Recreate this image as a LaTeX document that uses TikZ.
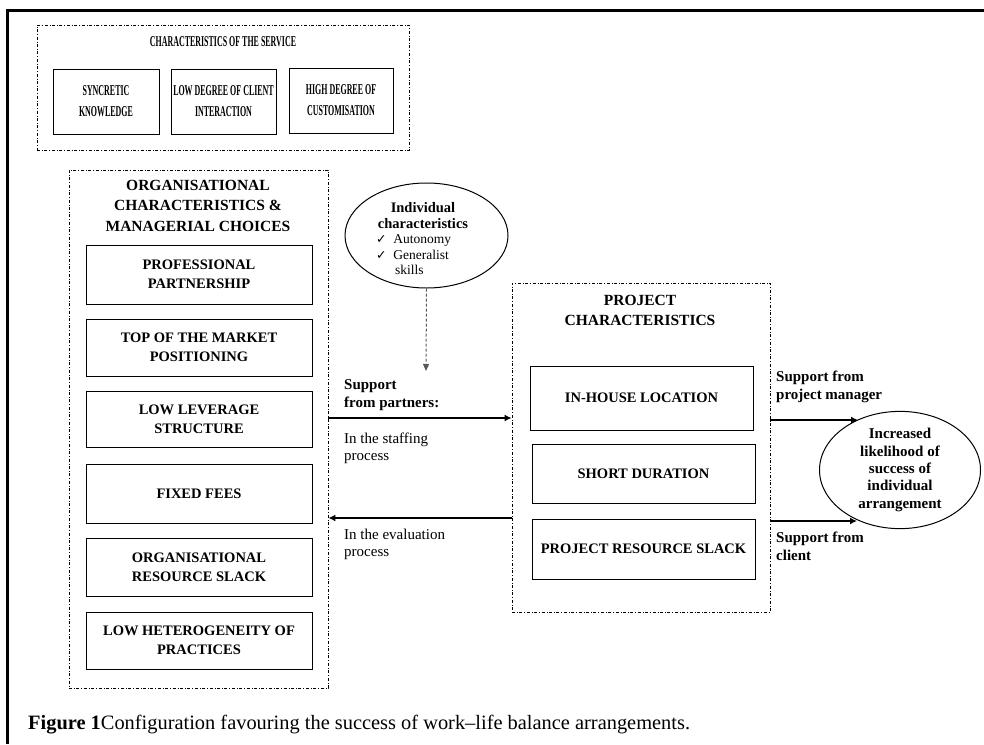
\documentclass[tikz,border=0pt]{standalone}
\usepackage{fontspec}
\setmainfont{Liberation Serif}
\newfontfamily\symfont{DejaVu Sans}
\usetikzlibrary{arrows.meta,shapes.geometric}
\newcommand{\ck}{{\symfont\fontsize{12.5}{12}\selectfont ✓}}
\newcommand{\cond}[1]{\scalebox{0.53}[1]{#1}}
\tikzset{
  dd/.style={draw, dash dot, line width=0.8pt},
  topbox/.style={draw, line width=1pt, align=center, inner sep=0pt,
    font=\bfseries\fontsize{15}{21}\selectfont},
  bx/.style={draw, line width=1pt, align=center, inner sep=0pt,
    font=\bfseries\fontsize{14.5}{19}\selectfont},
  ttl/.style={align=center, inner sep=0pt, font=\bfseries\fontsize{15.5}{20.5}\selectfont},
  lbl/.style={align=left, anchor=west, inner sep=0pt, font=\fontsize{15}{17.5}\selectfont},
  blbl/.style={align=left, anchor=west, inner sep=0pt, font=\bfseries\fontsize{15}{18}\selectfont},
  ell/.style={draw, ellipse, line width=1pt, inner sep=0pt, align=center},
  arr/.style={line width=2.2pt, -{Latex[length=7pt,width=7pt]}},
}
\begin{document}
\begin{tikzpicture}[x=1pt,y=-1pt]
\useasboundingbox (0,0) rectangle (984,744);
% outer frame
\draw[line width=3pt] (7,744) -- (7,10) -- (984,10);

% top group
\node[dd, minimum width=372pt, minimum height=125pt] (svc) at (223,87.5) {};
\node[ttl, font=\bfseries\fontsize{15}{16}\selectfont] (svct) at (223,42) {\cond{CHARACTERISTICS OF THE SERVICE}};
\node[topbox, minimum width=106pt, minimum height=65pt] (s1) at (106,101.5) {\cond{SYNCRETIC}\\\cond{KNOWLEDGE}};
\node[topbox, minimum width=105pt, minimum height=65pt] (s2) at (223.5,101.5) {\cond{LOW DEGREE OF CLIENT}\\\cond{INTERACTION}};
\node[topbox, minimum width=104pt, minimum height=65pt] (s3) at (341,100.5) {\cond{HIGH DEGREE OF}\\\cond{CUSTOMISATION}};

% left group
\node[dd, minimum width=259pt, minimum height=518pt] (org) at (198.5,429) {};
\node[ttl] (orgt) at (198,205.5) {ORGANISATIONAL\\CHARACTERISTICS \&\\MANAGERIAL CHOICES};
\node[bx, minimum width=226pt, minimum height=59pt] (o1) at (199,274.5) {PROFESSIONAL\\PARTNERSHIP};
\node[bx, minimum width=226pt, minimum height=57pt] (o2) at (199,347.5) {TOP OF THE MARKET\\POSITIONING};
\node[bx, minimum width=226pt, minimum height=56pt] (o3) at (199,419) {LOW LEVERAGE\\STRUCTURE};
\node[bx, minimum width=226pt, minimum height=59pt] (o4) at (199,493.5) {FIXED FEES};
\node[bx, minimum width=226pt, minimum height=58pt] (o5) at (199,567) {ORGANISATIONAL\\RESOURCE SLACK};
\node[bx, minimum width=226pt, minimum height=57pt] (o6) at (199,640.5) {LOW HETEROGENEITY OF\\PRACTICES};

% individual characteristics
\node[ell, minimum width=163pt, minimum height=105pt] (ind) at (426.5,235.5) {};
\node[align=center, inner sep=0pt, font=\fontsize{13.5}{15.5}\selectfont] (indt) at (423,239)
  {\textbf{\fontsize{14.5}{15.5}\selectfont Individual}\\\textbf{\fontsize{14.5}{15.5}\selectfont characteristics}\\
   \makebox[94pt][l]{\ck\hspace{7pt}Autonomy}\\
   \makebox[94pt][l]{\ck\hspace{7pt}Generalist}\\
   \makebox[94pt][l]{\hspace{19pt}skills}};
\coordinate (indtip) at (426,371);
\draw[line width=1pt, densely dashed, gray!70!black, -{Triangle[length=7pt,width=6pt]}] (ind.south) -- (indtip);

% project group
\node[dd, minimum width=258pt, minimum height=329pt] (proj) at (641,447.5) {};
\node[ttl] (projt) at (640,310.5) {PROJECT\\CHARACTERISTICS};
\node[bx, minimum width=223pt, minimum height=64pt] (p1) at (641.5,398) {IN-HOUSE LOCATION};
\node[bx, minimum width=223pt, minimum height=59pt] (p2) at (643.5,473.5) {SHORT DURATION};
\node[bx, minimum width=223pt, minimum height=60pt] (p3) at (643.5,549) {PROJECT RESOURCE SLACK};

% outcome
\node[ell, minimum width=161pt, minimum height=111pt, font=\bfseries\fontsize{15}{17.3}\selectfont] (out) at (900,470)
  {Increased\\likelihood of\\success of\\individual\\arrangement};

% arrows between groups
\coordinate (ya) at (0,418);
\coordinate (yb) at (0,518);
\draw[arr] (org.east |- ya) -- (proj.west |- ya);
\draw[arr] (proj.west |- yb) -- (org.east |- yb);
\coordinate (t3) at (858,420);
\coordinate (t4) at (857,521);
\draw[arr] (proj.east |- t3) -- (t3);
\draw[arr] (proj.east |- t4) -- (t4);

% labels
\node[blbl] (l1) at (344,395) {Support\\from partners:};
\node[lbl] (l2) at (344,448.5) {In the staffing\\process};
\node[lbl] (l3) at (344,544.5) {In the evaluation\\process};
\node[blbl] (l4) at (776,386.5) {Support from\\project manager};
\node[blbl] (l5) at (776,546) {Support from\\client};

% caption
\node[anchor=west, inner sep=0pt, font=\fontsize{20.4}{22}\selectfont] (cap) at (28,725)
  {\textbf{Figure 1}Configuration favouring the success of work–life balance arrangements.};
\end{tikzpicture}
\end{document}
